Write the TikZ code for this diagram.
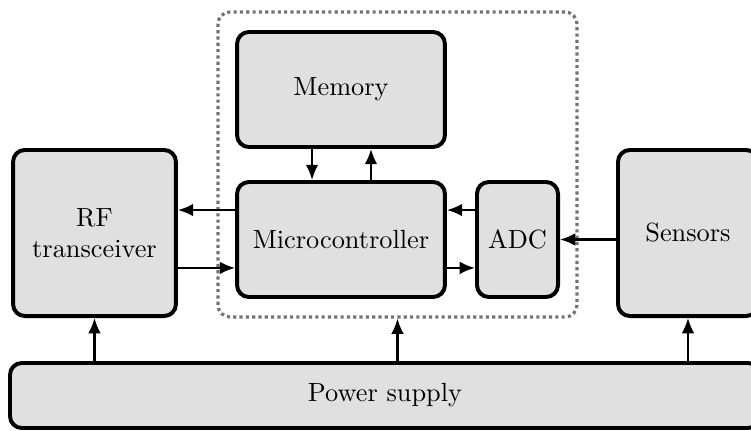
\documentclass[tikz,border=0pt]{standalone}
\usetikzlibrary{arrows.meta}

\begin{document}
\begin{tikzpicture}[x=0.38pt, y=-0.38pt,
block/.style={draw, line width=1.5pt, rounded corners=4.5pt, fill=black!12,
    align=center, inner sep=0pt},
link/.style={line width=0.8pt, -{Latex[length=5.8pt,width=4.8pt]}},
chip/.style={draw=black!55, line width=1.2pt, rounded corners=4.5pt,
    dash pattern=on 1.2pt off 1.2pt, inner sep=0pt}]
\clip (0,0) rectangle (751,431);
% blocks
\node[chip, minimum width=136.4pt, minimum height=115.9pt] (mcu) at (397.5,164.5) {};
\node[block, minimum width=61.9pt, minimum height=63.1pt] (rf) at (94.5,233) {RF\\transceiver};
\node[block, minimum width=79pt, minimum height=43.7pt] (mem) at (341,89.5) {Memory};
\node[block, minimum width=79pt, minimum height=43.7pt] (micro) at (341,239.5) {Microcontroller};
\node[block, minimum width=30.8pt, minimum height=43.7pt] (adc) at (517.5,239.5) {ADC};
\node[block, minimum width=53.2pt, minimum height=63.1pt] (sens) at (688,233) {Sensors};
\node[block, minimum width=285pt, minimum height=24.7pt] (power) at (385,395.5) {Power supply};
% data
\draw[link] ([yshift=11.2pt]micro.west) coordinate (m1) -- (m1 -| rf.east);
\draw[link] ([yshift=-10.8pt]micro.west -| rf.east) coordinate (r1) -- (r1 -| micro.west);
\draw[link] ([xshift=-11pt]mem.south) coordinate (k1) -- (k1 |- micro.north);
\draw[link] ([xshift=11.4pt]micro.north) coordinate (k2) -- (k2 |- mem.south);
\draw[link] ([yshift=11.2pt]adc.west) coordinate (a1) -- (a1 -| micro.east);
\draw[link] ([yshift=-10.8pt]micro.east) coordinate (a2) -- (a2 -| adc.west);
\draw[link] (sens.west |- adc.east) -- (adc.east);
% power
\draw[link] (power.north -| rf.south) -- (rf.south);
\draw[link] (power.north -| mcu.south) -- (mcu.south);
\draw[link] (power.north -| sens.south) -- (sens.south);
\end{tikzpicture}
\end{document}
